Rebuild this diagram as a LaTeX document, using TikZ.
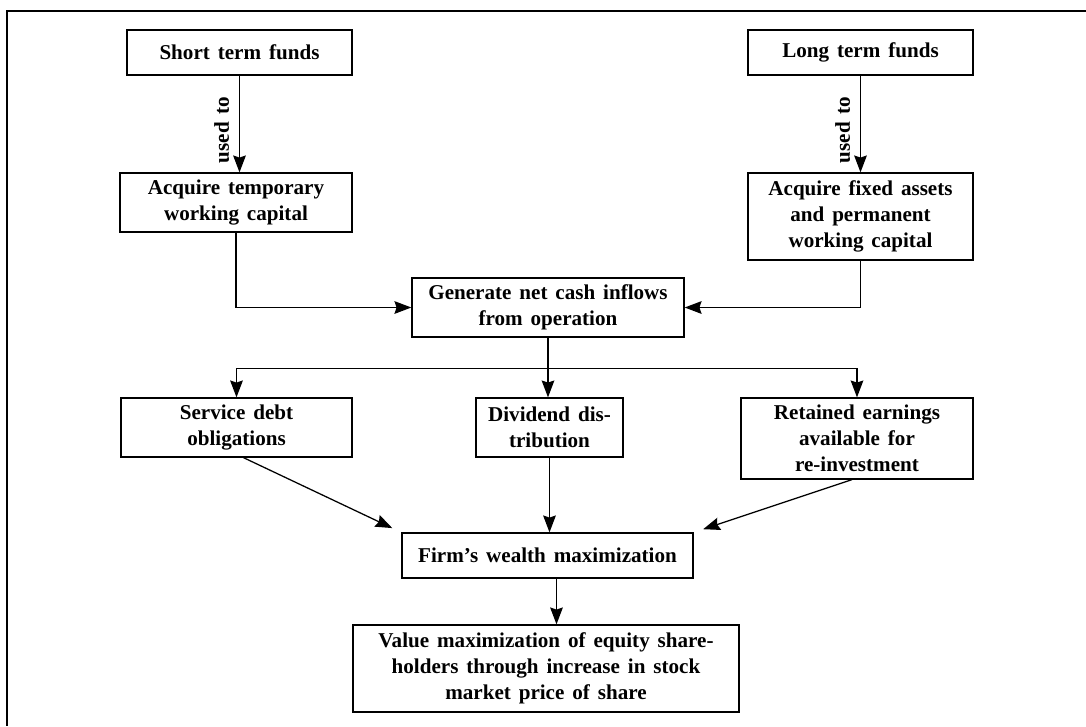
\documentclass[tikz,border=0pt]{standalone}
\usepackage{fontspec}
\setmainfont{Liberation Serif}[WordSpace=1.5]
\usetikzlibrary{arrows.meta, calc}

\begin{document}
\begin{tikzpicture}[
    x=0.025cm, y=-0.025cm,
    box/.style={rectangle, draw, line width=0.9pt, inner sep=0pt, align=center,
                font=\fontsize{15pt}{18.5pt}\selectfont\bfseries},
    lbl/.style={rotate=90, anchor=south, inner sep=7pt,
                font=\fontsize{15pt}{18.5pt}\selectfont\bfseries},
    arr/.style={-{Stealth[length=12pt, width=9pt, inset=1.5pt]}, line width=0.9pt},
    link/.style={line width=0.9pt},
]
    \useasboundingbox (0,0) rectangle (1086,726);

    % Page frame
    \draw[link] (1086,11) -- (7,11) -- (7,726);

    % Sources of funds
    \node[box, minimum width=5.625cm, minimum height=1.125cm] (short) at (239.5,52.5) {Short term funds};
    \node[box, minimum width=5.625cm, minimum height=1.125cm] (long)  at (860.5,52.5) {Long term funds};

    % Uses of funds
    \node[box, minimum width=5.8cm, minimum height=1.475cm] (temp) at (236,202.5) {Acquire temporary\\working capital};
    \node[box, minimum width=5.625cm, minimum height=2.175cm] (fixed) at (860.5,216.5) {Acquire fixed assets\\and permanent\\working capital};

    % Operations
    \node[box, minimum width=6.8cm, minimum height=1.475cm] (gen) at (548,307.5) {Generate net cash inflows\\from operation};

    % Distribution of cash
    \node[box, minimum width=5.775cm, minimum height=1.475cm] (debt) at (236.5,427.5) {Service debt\\obligations};
    \node[box, minimum width=3.675cm, minimum height=1.475cm] (div)  at (549.5,427.5) {Dividend dis-\\tribution};
    \node[box, minimum width=5.8cm, minimum height=2.025cm] (ret)  at (857,438.5) {Retained earnings\\available for\\re-investment};

    % Goals
    \node[box, minimum width=7.275cm, minimum height=1.125cm] (firm) at (547.5,555.5) {Firm's wealth maximization};
    \node[box, minimum width=9.65cm, minimum height=2.175cm] (value) at (546,668.5) {Value maximization of equity share-\\holders through increase in stock\\market price of share};

    % Arrows: funds -> uses
    \draw[arr] (short) -- node[lbl, pos=0.56] {used to} (short |- temp.north);
    \draw[arr] (long) -- node[lbl, pos=0.56] {used to} (long |- fixed.north);

    % Arrows: uses -> operations
    \draw[arr] (temp.south) |- (gen.west);
    \draw[arr] (fixed.south) |- (gen.east);

    % Arrows: operations -> distribution
    \coordinate (split) at ($(gen.south)+(0,31)$);
    \draw[link] (gen.south) -- (split);
    \draw[arr] (split) -| (debt.north);
    \draw[arr] (split) -| (ret.north);
    \draw[arr] (split) -- (split |- div.north);

    % Arrows: distribution -> firm's wealth
    \draw[arr, shorten >=0.25cm] ($(debt.south)+(7,0)$) -- (firm.north west);
    \draw[arr] (div.south) -- (div.south |- firm.north);
    \draw[arr, shorten >=0.25cm] ($(ret.south)+(-5,0)$) -- (firm.north east);

    % Arrow: firm's wealth -> value
    \coordinate (fout) at ($(firm.south)+(9,0)$);
    \draw[arr] (fout) -- (fout |- value.north);
\end{tikzpicture}
\end{document}
